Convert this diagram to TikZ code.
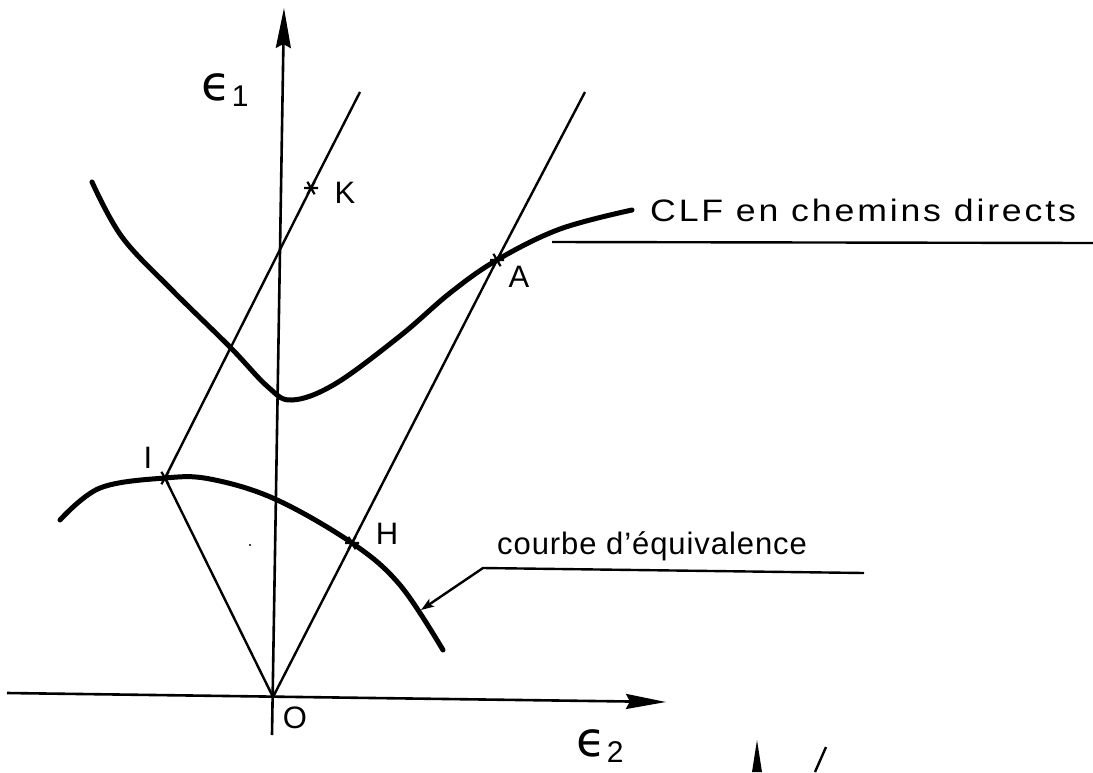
\documentclass[tikz,border=0pt]{standalone}
\usepackage{fontspec}
\setmainfont{Liberation Sans}
\newfontfamily\epsfont{DejaVu Sans}
\usetikzlibrary{arrows.meta}
\begin{document}
\begin{tikzpicture}[x=1pt,y=-1pt,
  thinline/.style={line width=2.4pt},
  axisline/.style={line width=2.6pt},
  thickcurve/.style={line width=5pt, line cap=round},
  lab/.style={font=\fontsize{31}{31}\selectfont, inner sep=0pt},
  hand/.style={font=\fontsize{31}{31}\selectfont, inner sep=0pt},
  astmark/.pic={\draw[line width=2.2pt] (-7,0)--(7,0) (-3.6,-6.2)--(3.6,6.2) (-3.6,6.2)--(3.6,-6.2);},
  bigtip/.style={-{Stealth[length=40pt,width=15pt,inset=4pt]}}
]
\useasboundingbox (0,0) rectangle (1093,772);
% points
\coordinate (O) at (273,697);
\coordinate (I) at (165,478);
\coordinate (H) at (352,543);
\coordinate (A) at (497,260);
\coordinate (K) at (311,188);
\coordinate (Ktop) at (360,92);
\coordinate (Atop) at (585,92);
\coordinate (ybot) at (272,735);
\coordinate (ytop) at (284,8);
\coordinate (xl) at (7,693);
\coordinate (xr) at (666,702);
% axes
\draw[axisline,bigtip] (ybot) -- (ytop);
\draw[axisline,bigtip] (xl) -- (xr);
% construction lines
\draw[thinline] (O) -- (I);
\draw[thinline] (I) -- (K) -- (Ktop);
\draw[thinline] (O) -- (H) -- (A) -- (Atop);
% CLF curve
\draw[thickcurve] plot[smooth, tension=0.6] coordinates {(92,182) (122,237) (172,290) (230,347) (268,387) (292,400) (335,384) (400,336) (450,293) (497,260) (560,229) (632,210)};
% equivalence curve
\coordinate (c3) at (421,610);
\draw[thickcurve] plot[smooth, tension=0.6] coordinates {(60,520) (100,488) (165,478) (210,479) (275,499) (352,543) (400,585) (443,650)};
% markers
\pic at (K) {astmark};
\pic at (A) {astmark};
\pic at (I) {astmark};
\pic at (H) {astmark};
% labels
\node[lab] (Klab) at (345,193) {K};
\node[lab] (Alab) at (519,277) {A};
\node[lab] (Ilab) at (148,458) {I};
\node[lab] (Hlab) at (387,534) {H};
\node[lab] (Olab) at (295,718) {O};
\node[inner sep=0pt] (e1) at (225,90) {{\epsfont\fontsize{48}{48}\selectfont ϵ}\kern1pt\raisebox{-6pt}{\fontsize{30}{30}\selectfont 1}};
\node[inner sep=0pt] (e2) at (600,746) {{\epsfont\fontsize{48}{48}\selectfont ϵ}\kern1pt\raisebox{-6pt}{\fontsize{30}{30}\selectfont 2}};
% CLF label
\node[hand, anchor=west] (clf) at (650,210) {\scalebox{1.15}[1]{\addfontfeature{LetterSpace=8}CLF en chemins directs}};
\coordinate (u1) at (552,242);
\coordinate (u2) at (1093,243);
\draw[thinline] (u1) -- (u2);
% equivalence label
\node[hand, anchor=west] (ceq) at (497,546) {\addfontfeature{LetterSpace=3}courbe d'équivalence};
\coordinate (c1) at (864,573);
\coordinate (c2) at (483,568);
\draw[thinline,-{Stealth[length=13pt,width=9pt,inset=3pt]}] (c1) -- (c2) -- (c3);
% stray marks
\fill (250,545) circle (1.2pt);
\fill (757,740) -- (762,772) -- (752,772) -- cycle;
\draw[thinline] (826,747) -- (815,772);
\end{tikzpicture}
\end{document}
